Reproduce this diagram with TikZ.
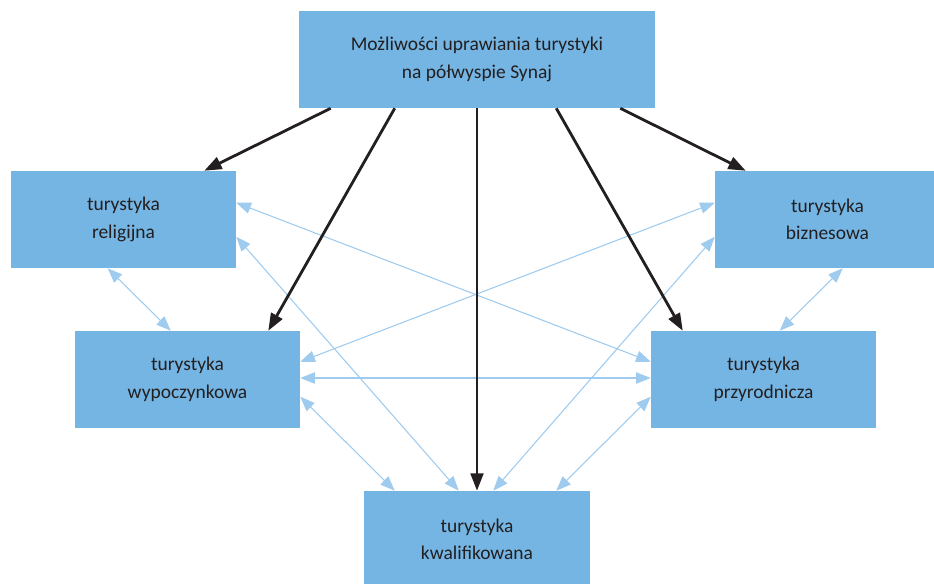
\documentclass[tikz,border=0pt]{standalone}
\usepackage{fontspec}
\setmainfont{Carlito}
\usetikzlibrary{arrows.meta,calc}
\definecolor{boxblue}{HTML}{74B5E3}
\definecolor{linkblue}{HTML}{9FCBEE}
\definecolor{darkline}{HTML}{231F20}

\begin{document}
\begin{tikzpicture}[x=0.75pt, y=-0.75pt,
    every node/.style={font=\fontsize{14.6}{20.6}\selectfont, text=darkline, align=center},
    box/.style={fill=boxblue, inner sep=0pt, minimum height=72.75pt},
    main/.style={darkline, line width=2.1pt, -{Triangle[length=13pt,width=9.5pt]}},
    link/.style={linkblue, line width=0.8pt, {Triangle[length=11pt,width=8.5pt]}-{Triangle[length=11pt,width=8.5pt]}}]
			\useasboundingbox (0,0) rectangle (934,583);

			% Boxes
			\node[box, minimum width=267pt] (top) at (477,59.5) {Możliwości uprawiania turystyki\\na półwyspie Synaj};
			\node[box, minimum width=168.75pt] (rel) at (123.5,219.5) {turystyka\\religijna};
			\node[box, minimum width=168.75pt] (biz) at (827.5,219.5) {turystyka\\biznesowa};
			\node[box, minimum width=168.75pt] (wyp) at (187.5,379.5) {turystyka\\wypoczynkowa};
			\node[box, minimum width=168.75pt] (prz) at (763.5,379.5) {turystyka\\przyrodnicza};
			\node[box, minimum width=169.5pt] (kwa) at (477,539.5) {turystyka\\kwalifikowana};

			% Links between kinds
			\draw[link] ($(rel.south west)+(97,0)$) -- ($(wyp.north west)+(96,0)$);
			\draw[link] ($(biz.south west)+(128,0)$) -- ($(prz.north west)+(129,0)$);
			\draw[link] ($(wyp.east)+(0,-1.5)$) -- ($(prz.west)+(0,-1.5)$);
			\draw[link] ($(rel.north east)+(0,32)$) -- ($(prz.north west)+(0,31)$);
			\draw[link] ($(biz.north west)+(0,32)$) -- ($(wyp.north east)+(0,31)$);
			\draw[link] ($(rel.north east)+(0,66)$) -- ($(kwa.north west)+(95,0)$);
			\draw[link] ($(biz.north west)+(0,66)$) -- ($(kwa.north east)+(-97,0)$);
			\draw[link] ($(wyp.north east)+(0,66)$) -- ($(kwa.north west)+(31,0)$);
			\draw[link] ($(prz.north west)+(0,66)$) -- ($(kwa.north east)+(-34,0)$);

			% Main arrows
			\draw[main] ($(top.south west)+(32,0)$) -- ($(rel.north east)+(-32,0)$);
			\draw[main] ($(top.south west)+(96,0)$) -- ($(wyp.north east)+(-32,0)$);
			\draw[main] (top.south) -- (kwa.north);
			\draw[main] ($(top.south east)+(-99,0)$) -- ($(prz.north west)+(32,0)$);
			\draw[main] ($(top.south east)+(-35,0)$) -- ($(biz.north west)+(31,0)$);
		\end{tikzpicture}
\end{document}
